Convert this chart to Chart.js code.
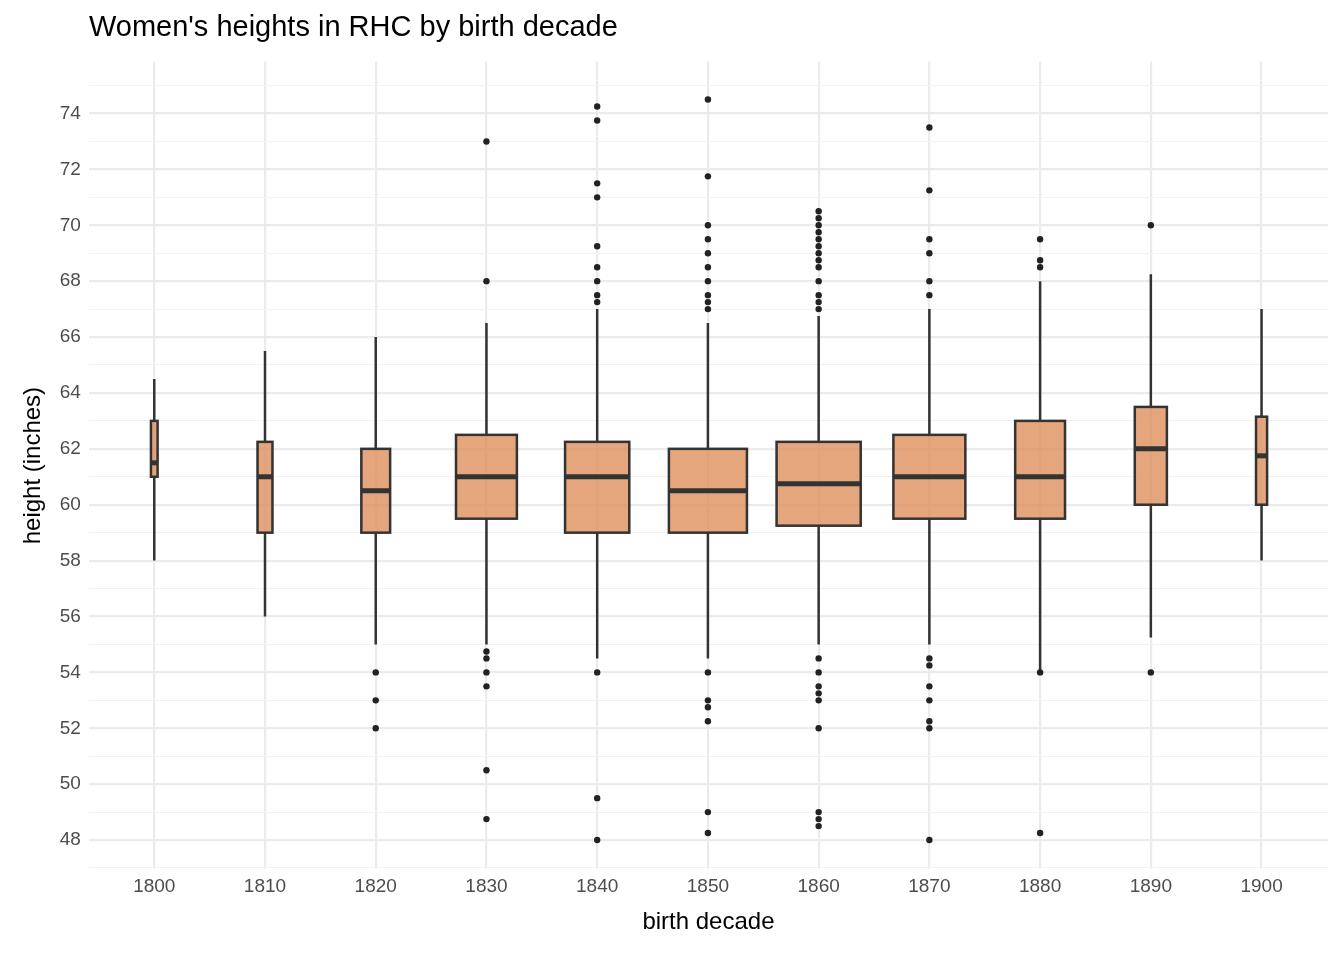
<!DOCTYPE html>
<html>
<head>
<meta charset="utf-8">
<script src="https://cdn.jsdelivr.net/npm/chart.js@4"></script>
<style>
  body { margin: 0; background: #fff; }
  #wrap { width: 1344px; height: 960px; position: relative; }
</style>
</head>
<body>
<div id="wrap"><canvas id="box"></canvas></div>
<script>
// ===== DATA =====
const decades = [1800, 1810, 1820, 1830, 1840, 1850, 1860, 1870, 1880, 1890, 1900];
const lowWhisker = [58, 56, 55, 55, 54.5, 54.5, 55, 55, 54, 55.25, 58];
const q1 = [61, 59, 59, 59.5, 59, 59, 59.25, 59.5, 59.5, 60, 60];
const medians = [61.5, 61, 60.5, 61, 61, 60.5, 60.75, 61, 61, 62, 61.75];
const q3 = [63, 62.25, 62, 62.5, 62.25, 62, 62.25, 62.5, 63, 63.5, 63.15];
const highWhisker = [64.5, 65.5, 66, 66.5, 67, 66.5, 66.75, 67, 68, 68.25, 67];
// box width in decade units (variable width, proportional to group size)
const boxWidths = [0.6, 1.35, 2.6, 5.5, 5.8, 7.05, 7.6, 6.5, 4.5, 2.9, 1.0];
const outliers = [
  [],
  [],
  [54, 53, 52],
  [73, 68, 54.75, 54.5, 54, 53.5, 50.5, 48.75],
  [74.25, 73.75, 71.5, 71, 69.25, 68.5, 68, 67.5, 67.25, 54, 49.5, 48],
  [74.5, 71.75, 70, 69.5, 69, 68.5, 68, 67.5, 67.25, 67, 54, 53, 52.75, 52.25, 49, 48.25],
  [70.5, 70.25, 70, 69.75, 69.5, 69.25, 69, 68.75, 68.5, 68, 67.5, 67.25, 67, 54.5, 54, 53.5, 53.25, 53, 52, 49, 48.75, 48.5],
  [73.5, 71.25, 69.5, 69, 68, 67.5, 54.5, 54.25, 53.5, 53, 52.25, 52, 48],
  [69.5, 68.75, 68.5, 54, 48.25],
  [70, 54],
  []
];
const chartTitle = "Women's heights in RHC by birth decade";

const outlierPoints = [];
decades.forEach((d, i) => outliers[i].forEach(v => outlierPoints.push({ x: d, y: v })));

// ===== BOX PLOT PLUGIN =====
const boxPlugin = {
  id: "boxes",
  beforeDatasetsDraw(chart) {
    const { ctx, scales: { x, y } } = chart;
    ctx.save();
    decades.forEach((d, i) => {
      const cx = x.getPixelForValue(d);
      const half = (x.getPixelForValue(d + boxWidths[i] / 2) - x.getPixelForValue(d - boxWidths[i] / 2)) / 2;
      const yq1 = y.getPixelForValue(q1[i]);
      const yq3 = y.getPixelForValue(q3[i]);
      ctx.strokeStyle = "#333333";
      ctx.lineWidth = 2.5;
      ctx.beginPath();
      ctx.moveTo(cx, y.getPixelForValue(lowWhisker[i]));
      ctx.lineTo(cx, yq1);
      ctx.moveTo(cx, yq3);
      ctx.lineTo(cx, y.getPixelForValue(highWhisker[i]));
      ctx.stroke();
      ctx.fillStyle = "rgba(223,142,92,0.8)";
      ctx.fillRect(cx - half, yq3, half * 2, yq1 - yq3);
      ctx.strokeRect(cx - half, yq3, half * 2, yq1 - yq3);
      ctx.lineWidth = 5;
      ctx.beginPath();
      const ym = y.getPixelForValue(medians[i]);
      ctx.moveTo(cx - half, ym);
      ctx.lineTo(cx + half, ym);
      ctx.stroke();
    });
    ctx.restore();
  }
};

// ===== TITLE ALIGNED TO PLOT AREA =====
const titlePlugin = {
  id: "plotTitle",
  afterDraw(chart) {
    const { ctx, chartArea } = chart;
    ctx.save();
    ctx.fillStyle = "#000";
    ctx.font = "29px 'Liberation Sans'";
    ctx.textBaseline = "middle";
    ctx.fillText(chartTitle, chartArea.left, 28);
    ctx.restore();
  }
};

const tickFont = { family: "Liberation Sans", size: 19 };

new Chart(document.getElementById("box").getContext("2d"), {
  type: "scatter",
  data: {
    datasets: [{
      data: outlierPoints,
      pointRadius: 3.2,
      pointHoverRadius: 3.2,
      pointBackgroundColor: "#222",
      pointBorderWidth: 0,
    }],
  },
  options: {
    responsive: true,
    maintainAspectRatio: false,
    animation: false,
    layout: { padding: { left: 15, right: 16, top: 3, bottom: 19 } },
    scales: {
      x: {
        type: "linear",
        min: 1794.1,
        max: 1906,
        afterBuildTicks: (s) => { s.ticks = decades.map(v => ({ value: v })); },
        ticks: { color: "#4d4d4d", font: tickFont, padding: 6, callback: v => String(v) },
        grid: { color: "#ebebeb", lineWidth: 2.2, drawTicks: false },
        border: { display: false },
        title: { display: true, text: "birth decade", color: "#000", font: { family: "Liberation Sans", size: 24 }, padding: { top: 4 } },
      },
      y: {
        min: 46.95,
        max: 75.85,
        afterBuildTicks: (s) => {
          const t = [];
          for (let v = 47; v <= 75; v++) t.push({ value: v });
          s.ticks = t;
        },
        ticks: { color: "#4d4d4d", font: tickFont, padding: 8, callback: v => (v % 2 === 0 ? String(v) : "") },
        grid: {
          color: (c) => (c.tick && c.tick.value % 2 === 0 ? "#ebebeb" : "#f2f2f2"),
          lineWidth: (c) => (c.tick && c.tick.value % 2 === 0 ? 2.2 : 1.1),
          drawTicks: false,
        },
        border: { display: false },
        title: { display: true, text: "height (inches)", color: "#000", font: { family: "Liberation Sans", size: 24 }, padding: { bottom: 4 } },
      },
    },
    plugins: {
      legend: { display: false },
      tooltip: { enabled: false },
      title: {
        display: true,
        text: chartTitle,
        color: "rgba(0,0,0,0)",
        font: { family: "Liberation Sans", size: 29, weight: "normal" },
        padding: { top: 10, bottom: 14 },
      },
    },
  },
  plugins: [boxPlugin, titlePlugin],
});
</script>
</body>
</html>
